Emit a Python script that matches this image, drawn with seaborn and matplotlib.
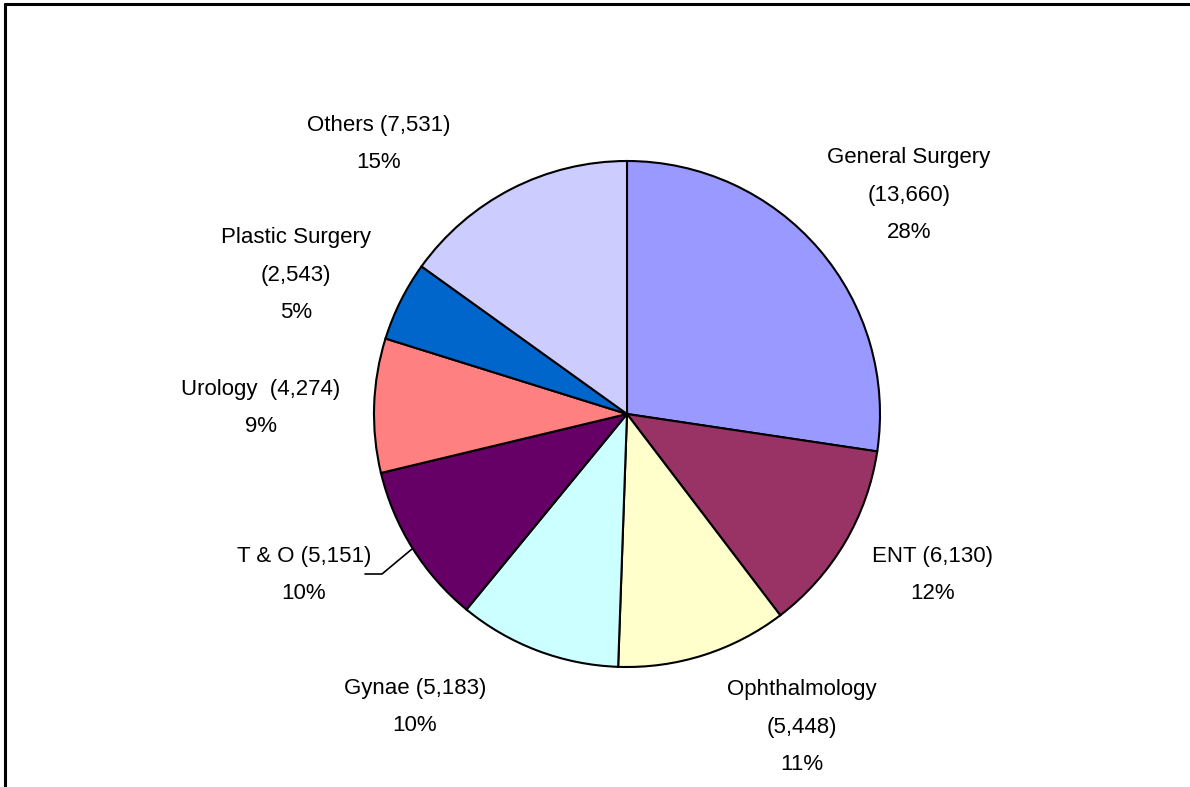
import matplotlib
matplotlib.use("Agg")
import matplotlib.pyplot as plt
from matplotlib.lines import Line2D
import seaborn as sns

# Data
specialties = ["General Surgery", "ENT", "Ophthalmology", "Gynae",
               "T & O", "Urology", "Plastic Surgery", "Others"]
cases = [13660, 6130, 5448, 5183, 5151, 4274, 2543, 7531]
pct_labels = ["28%", "12%", "11%", "10%", "10%", "9%", "5%", "15%"]
colors = ["#9999FF", "#993366", "#FFFFCC", "#CCFFFF",
          "#660066", "#FF8080", "#0066CC", "#CCCCFF"]

# label text layout (figure pixels, centre of the text block)
label_text = [
    "General Surgery\n(13,660)\n28%",
    "ENT (6,130)\n12%",
    "Ophthalmology\n(5,448)\n11%",
    "Gynae (5,183)\n10%",
    "T & O (5,151)\n10%",
    "Urology  (4,274)\n9%",
    "Plastic Surgery\n(2,543)\n5%",
    "Others (7,531)\n15%",
]
label_px = [(909, 195), (933, 575), (802, 727), (415, 707),
            (304, 575), (261, 408), (296, 275), (379, 144)]

W, H = 1190, 787
cx, cy, R = 627, 414, 253

sns.set_theme(style="white")
plt.rcParams["font.family"] = ["Liberation Sans", "DejaVu Sans"]

fig = plt.figure(figsize=(W / 100, H / 100), dpi=100)
ax = fig.add_axes([0, 0, 1, 1])
ax.axis("off")

wedges, _ = ax.pie(cases, colors=colors, startangle=90, counterclock=False,
                   radius=1.0, center=(0, 0),
                   wedgeprops=dict(edgecolor="black", linewidth=1.5))
ax.set_aspect("auto")
ax.set_xlim(-cx / R, (W - cx) / R)
ax.set_ylim(-(H - cy) / R, cy / R)

for txt, (px, py) in zip(label_text, label_px):
    fig.text(px / W, 1 - py / H, txt, ha="center", va="center",
             fontsize=16, linespacing=2.0, color="black")

# leader line for T & O
tx = [365 / W, 382 / W, 412 / W]
ty = [1 - 574 / H, 1 - 574 / H, 1 - 549 / H]
fig.add_artist(Line2D(tx, ty, color="black", linewidth=1.2))

# chart frame
fig.add_artist(Line2D([5 / W, 1], [1 - 4 / H, 1 - 4 / H], color="black", linewidth=2.2))
fig.add_artist(Line2D([5 / W, 5 / W], [0, 1 - 4 / H], color="black", linewidth=2.2))

fig.savefig("out.png", dpi=100, facecolor="white")
